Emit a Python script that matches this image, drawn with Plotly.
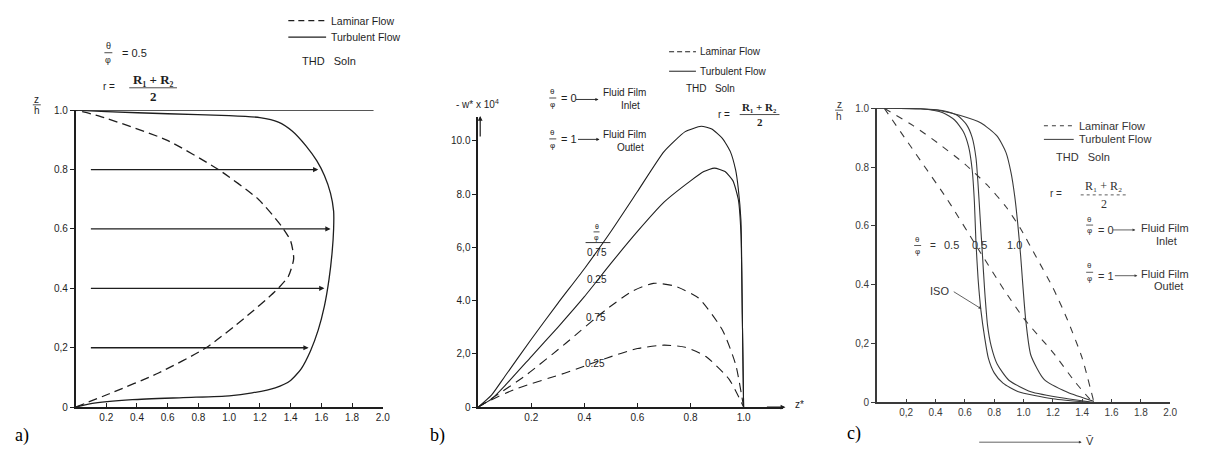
import numpy as np
import plotly.graph_objects as go

W, H = 1208, 455
INK = "#1e1e1e"
SANS = "Liberation Sans Narrow, Liberation Sans, Arial, sans-serif"
SERIF = "Liberation Serif, Times New Roman, serif"

# ---------------- (a) velocity profiles across the film, theta/phi = 0.5
a_lam_x = [0, 0.22, 0.54, 0.85, 1.10, 1.30, 1.385, 1.42, 1.40, 1.34, 1.19, 0.93, 0.59, 0.155, 0]
a_lam_z = [0, 0.045, 0.115, 0.20, 0.30, 0.39, 0.44, 0.50, 0.56, 0.61, 0.70, 0.80, 0.90, 0.98, 1.0]
a_turb_x = [0, 0.1, 0.37, 0.7, 1.0, 1.15, 1.3, 1.4, 1.47, 1.53, 1.58, 1.62, 1.65, 1.67, 1.68,
            1.68, 1.66, 1.62, 1.57, 1.50, 1.41, 1.32, 1.2, 1.0, 0.6, 0.2, 0]
a_turb_z = [0, 0.012, 0.025, 0.032, 0.038, 0.048, 0.065, 0.09, 0.13, 0.19, 0.26, 0.34, 0.43, 0.52, 0.6,
            0.66, 0.72, 0.78, 0.83, 0.88, 0.93, 0.96, 0.975, 0.982, 0.988, 0.995, 1.0]
a_wall_x = [0, 1.94]
a_wall_z = [1.0, 1.0]
a_arrow_z = [0.2, 0.4, 0.6, 0.8]
a_arrow_start = 0.09
a_xticks = [0.2, 0.4, 0.6, 0.8, 1.0, 1.2, 1.4, 1.6, 1.8, 2.0]
a_xtext = ["0.2", "0.4", "0.6", "0.8", "1.0", "1.2", "1.4", "1.6", "1.8", "2.0"]
a_yticks = [0, 0.2, 0.4, 0.6, 0.8, 1.0]
a_ytext = ["0", "0,2", "0.4", "0.6", "0.8", "1.0"]

# ---------------- (b) axial velocity -w* x 10^4 against z*
b_turb75_x = [0, 0.05, 0.1, 0.2, 0.3, 0.4, 0.5, 0.6, 0.7, 0.78, 0.84, 0.88, 0.92, 0.95, 0.97, 0.98, 0.99, 0.995, 1.0]
b_turb75_y = [0, 0.45, 1.15, 2.55, 3.9, 5.2, 6.6, 8.1, 9.6, 10.35, 10.55, 10.45, 10.1, 9.6, 8.9, 8.2, 7.0, 3.5, 0]
b_turb25_x = [0, 0.05, 0.1, 0.2, 0.3, 0.4, 0.5, 0.6, 0.7, 0.8, 0.85, 0.89, 0.93, 0.96, 0.98, 0.99, 0.995, 1.0]
b_turb25_y = [0, 0.3, 0.8, 1.9, 3.0, 4.15, 5.4, 6.6, 7.7, 8.5, 8.85, 8.98, 8.85, 8.5, 7.8, 6.5, 3.5, 0]
b_lam75_x = [0, 0.07, 0.18, 0.33, 0.48, 0.58, 0.66, 0.74, 0.83, 0.92, 0.97, 1.0]
b_lam75_y = [0, 0.45, 1.2, 2.4, 3.65, 4.35, 4.65, 4.55, 4.1, 2.9, 1.6, 0]
b_lam25_x = [0, 0.034, 0.146, 0.333, 0.483, 0.6, 0.7, 0.78, 0.858, 0.945, 1.0]
b_lam25_y = [0, 0.2, 0.7, 1.3, 1.84, 2.2, 2.33, 2.25, 1.9, 1.05, 0]
b_xticks = [0.2, 0.4, 0.6, 0.8, 1.0]
b_xtext = ["0.2", "0.4", "0.6", "0.8", "1.0"]
b_yticks = [0, 2, 4, 6, 8, 10]
b_ytext = ["0", "2,0", "4.0", "6,0", "8.0", "10.0"]

# ---------------- (c) tangential velocity V against z/h
c_iso_x = [0, 0.3, 0.45, 0.53, 0.59, 0.625, 0.65, 0.665, 0.675, 0.69, 0.71, 0.735, 0.76, 0.8, 0.86, 0.96, 1.2, 1.45]
c_iso_z = [1.0, 0.998, 0.985, 0.96, 0.92, 0.87, 0.79, 0.68, 0.55, 0.42, 0.31, 0.22, 0.15, 0.1, 0.065, 0.037, 0.012, 0.0]
c_t05_x = [0, 0.3, 0.47, 0.55, 0.61, 0.65, 0.676, 0.69, 0.705, 0.72, 0.735, 0.755, 0.78, 0.82, 0.9, 1.05, 1.3, 1.47]
c_t05_z = [1.0, 0.998, 0.99, 0.975, 0.945, 0.9, 0.83, 0.74, 0.62, 0.5, 0.38, 0.26, 0.19, 0.13, 0.075, 0.036, 0.012, 0.0]
c_t10_x = [0, 0.3, 0.45, 0.57, 0.71, 0.82, 0.88, 0.915, 0.94, 0.96, 0.98, 0.995, 1.015, 1.05, 1.14, 1.3, 1.48]
c_t10_z = [1.0, 0.998, 0.99, 0.975, 0.95, 0.905, 0.85, 0.78, 0.70, 0.61, 0.50, 0.40, 0.28, 0.16, 0.078, 0.034, 0.003]
c_l05_x = [0.05, 0.3, 0.48, 0.68, 0.87, 1.01, 1.2, 1.35, 1.47]
c_l05_z = [1.0, 0.82, 0.69, 0.53, 0.38, 0.28, 0.17, 0.07, 0.0]
c_l10_x = [0.05, 0.25, 0.42, 0.6, 0.75, 0.88, 0.98, 1.08, 1.2, 1.3, 1.4, 1.48]
c_l10_z = [1.0, 0.94, 0.88, 0.81, 0.74, 0.665, 0.59, 0.5, 0.39, 0.28, 0.15, 0.0]
c_xticks = [0.2, 0.4, 0.6, 0.8, 1.0, 1.2, 1.4, 1.6, 1.8, 2.0]
c_xtext = ["0,2", "0.4", "0.6", "0.8", "1.0", "1.2", "1.4", "1.6", "1.8", "2.0"]
c_yticks = [0, 0.2, 0.4, 0.6, 0.8, 1.0]
c_ytext = ["0", "0,2", "0.4", "0.6", "0.8", "1.0"]


def dom_x(p0, p1):
    return [p0 / W, p1 / W]


def dom_y(p_bottom, p_top):
    return [1 - p_bottom / H, 1 - p_top / H]


fig = go.Figure()


def curve(x, y, axis, dash="solid", color=INK, width=1.3, smooth=0.6):
    fig.add_trace(go.Scatter(
        x=x, y=y, xaxis="x" + axis, yaxis="y" + axis, mode="lines",
        line=dict(color=color, width=width, dash=dash, shape="spline", smoothing=smooth),
        hoverinfo="skip", showlegend=False))


# panel a
curve(a_lam_x, a_lam_z, "", dash="9px,5px")
curve(a_turb_x, a_turb_z, "")
curve(a_wall_x, a_wall_z, "", width=1.8)
# panel b
curve(b_turb75_x, b_turb75_y, "2", width=1.1, smooth=0.5)
curve(b_turb25_x, b_turb25_y, "2", width=1.1, smooth=0.5)
curve(b_lam75_x, b_lam75_y, "2", dash="9px,6px", width=1.1)
curve(b_lam25_x, b_lam25_y, "2", dash="9px,6px", width=1.1)
# panel c
CG = "#3a3a3a"
curve(c_iso_x, c_iso_z, "3", color=CG, width=1.1)
curve(c_t05_x, c_t05_z, "3", color=CG, width=1.1)
curve(c_t10_x, c_t10_z, "3", color=CG, width=1.1)
curve(c_l05_x, c_l05_z, "3", dash="7px,7px", color=CG, width=1.1)
curve(c_l10_x, c_l10_z, "3", dash="7px,7px", color=CG, width=1.1)

ann = []
shp = []


def label(x, y, s, size=10, anchor="center", family=SANS, color=INK):
    ann.append(dict(x=x / W, y=1 - y / H, xref="paper", yref="paper", text=s, showarrow=False,
                    xanchor=anchor, yanchor="middle",
                    font=dict(family=family, size=size, color=color)))


def hline(x0, x1, y, dash="solid", width=1.0, color=INK):
    shp.append(dict(type="line", xref="paper", yref="paper", x0=x0 / W, x1=x1 / W,
                    y0=1 - y / H, y1=1 - y / H, line=dict(color=color, width=width, dash=dash)))


def pointer(x0, y0, x1, y1, color=INK, width=1.0, size=0.8):
    ann.append(dict(x=x1 / W, y=1 - y1 / H, xref="paper", yref="paper", ax=x0 - x1, ay=y0 - y1,
                    text="", showarrow=True, arrowhead=2, arrowsize=size, arrowwidth=width,
                    arrowcolor=color))


def frac(xc, y_num, y_den, num, den, size=10, bar=12, family=SANS, color=INK, bar_dash="solid"):
    label(xc, y_num, num, size=size, family=family, color=color)
    hline(xc - bar / 2, xc + bar / 2, (y_num + y_den) / 2, color=color, width=0.8, dash=bar_dash)
    label(xc, y_den, den, size=size, family=family, color=color)


# ---- panel a annotations
for z in a_arrow_z:
    xe = float(np.interp(z, a_turb_z, a_turb_x)) - 0.02
    ann.append(dict(x=xe, y=z, xref="x", yref="y", ax=a_arrow_start, ay=z, axref="x", ayref="y",
                    text="", showarrow=True, arrowhead=2, arrowsize=0.8, arrowwidth=1.3, arrowcolor=INK))
frac(37, 96, 107, "z", "h", size=10, bar=8)
frac(109, 41, 55, "θ", "φ", size=9, bar=8)
label(121, 48, "= 0.5", size=11, anchor="left")
label(118, 83, "r =", size=10, anchor="right")
frac(154, 75, 93, "<b>R₁ + R₂</b>", "<b>2</b>", size=13, bar=48, family=SERIF)
hline(290, 328, 15, dash="6px,4px", width=1.1)
label(331, 15, "Laminar Flow", size=10.5, anchor="left")
hline(290, 328, 32, width=1.1)
label(331, 32, "Turbulent Flow", size=10.5, anchor="left")
label(302, 57, "THD   Soln", size=11, anchor="left")
label(22, 441, "a)", size=18, family=SERIF, color="#000")

# ---- panel b annotations
pointer(483, 135, 483, 113, width=1.2)
pointer(770, 412, 790, 412, width=1.2)
label(480, 101, "- w* x 10<sup>4</sup>", size=10)
label(804, 409, "z*", size=10)
hline(673, 700, 47, dash="5px,3px", width=1.0)
label(702, 47, "Laminar Flow", size=10, anchor="left")
hline(673, 700, 67, width=1.0)
label(702, 67, "Turbulent Flow", size=10, anchor="left")
label(688, 85, "THD   Soln", size=10, anchor="left")
frac(556, 88, 101, "θ", "φ", size=8, bar=7)
label(562, 95, "= 0", size=11, anchor="left")
pointer(578, 96, 602, 96, width=0.9, size=0.7)
label(605, 89, "Fluid Film", size=10, anchor="left")
label(634, 102, "Inlet", size=10)
frac(556, 130, 143, "θ", "φ", size=8, bar=7)
label(562, 137, "= 1", size=11, anchor="left")
pointer(580, 137, 603, 137, width=0.9, size=0.7)
label(605, 132, "Fluid Film", size=10, anchor="left")
label(634, 145, "Outlet", size=10)
label(736, 111, "r =", size=10, anchor="right")
frac(764, 104, 119, "<b>R₁ + R₂</b>", "<b>2</b>", size=11, bar=40, family=SERIF)
frac(600, 226, 238, "θ", "φ", size=7, bar=6)
hline(589, 614, 243, width=0.9)
label(600, 253, "0.75", size=10)
label(600, 281, "0.25", size=10)
label(599, 320, "0.75", size=10)
label(598, 367, "0.25", size=10)
label(440, 441, "b)", size=18, family=SERIF, color="#000")

# ---- panel c annotations
CT = "#333333"
frac(844, 101, 113, "z", "h", size=10, bar=8, color=CT)
hline(1050, 1080, 123, dash="4px,4px", width=1.0, color=CG)
label(1083, 123, "Laminar Flow", size=11, anchor="left", color=CT)
hline(1050, 1080, 137, width=1.0, color=CG)
label(1083, 137, "Turbulent Flow", size=11, anchor="left", color=CT)
label(1060, 155, "THD   Soln", size=11, anchor="left", color=CT)
label(1070, 193, "r =", size=10, anchor="right", color=CT)
frac(1110, 185, 203, "R₁ + R₂", "2", size=12, bar=46, family=SERIF, color=CT, bar_dash="dot")
frac(1096, 219, 231, "θ", "φ", size=8, bar=7, color=CT)
label(1102, 230, "= 0", size=11, anchor="left", color=CT)
pointer(1118, 230, 1142, 230, width=0.8, size=0.7, color=CG)
label(1146, 228, "Fluid Film", size=11, anchor="left", color=CT)
label(1173, 241, "Inlet", size=11, color=CT)
frac(1096, 267, 280, "θ", "φ", size=8, bar=7, color=CT)
label(1102, 277, "= 1", size=11, anchor="left", color=CT)
pointer(1120, 277, 1144, 277, width=0.8, size=0.7, color=CG)
label(1146, 275, "Fluid Film", size=11, anchor="left", color=CT)
label(1175, 288, "Outlet", size=11, color=CT)
frac(923, 240, 252, "θ", "φ", size=8, bar=7, color=CT)
label(933, 246, "=", size=10, anchor="left", color=CT)
label(957, 245, "0.5", size=11, color=CT)
label(985, 245, "0.5", size=11, color=CT)
label(1020, 245, "1.0", size=11, color=CT)
label(945, 293, "ISO", size=11, color=CT)
pointer(958, 293, 987, 311, width=0.8, size=0.7, color=CG)
pointer(984, 448, 1088, 448, width=0.8, size=0.7, color=CG)
label(1096, 447, "V̄", size=11, color=CT)
label(859, 439, "c)", size=18, family=SERIF, color="#000")


def xaxis(dom, rng, ticks, text, anchor, color=INK):
    return dict(domain=dom, range=rng, anchor=anchor, showline=True, linecolor=color, linewidth=1.5,
                showgrid=False, zeroline=False, ticks="inside", ticklen=4, tickcolor=color,
                tickvals=ticks, ticktext=text, tickfont=dict(family=SANS, size=10, color=color),
                fixedrange=True)


def yaxis(dom, rng, ticks, text, anchor, color=INK):
    return dict(domain=dom, range=rng, anchor=anchor, showline=True, linecolor=color, linewidth=1.5,
                showgrid=False, zeroline=False, ticks="outside", ticklen=4, tickcolor=color,
                tickvals=ticks, ticktext=text, tickfont=dict(family=SANS, size=10, color=color),
                fixedrange=True)


fig.update_layout(
    width=W, height=H, margin=dict(l=0, r=0, t=0, b=0),
    paper_bgcolor="white", plot_bgcolor="rgba(0,0,0,0)", showlegend=False,
    xaxis=xaxis(dom_x(76, 385), [0, 2.0], a_xticks, a_xtext, "y"),
    yaxis=yaxis(dom_y(412, 107), [0, 1.0], a_yticks, a_ytext, "x"),
    xaxis2=xaxis(dom_x(481, 788), [0, 1.15], b_xticks, b_xtext, "y2"),
    yaxis2=yaxis(dom_y(412, 114), [0, 10.9], b_yticks, b_ytext, "x2"),
    xaxis3=xaxis(dom_x(882, 1177), [0, 2.0], c_xticks, c_xtext, "y3", color=CG),
    yaxis3=yaxis(dom_y(407, 105), [0, 1.0], c_yticks, c_ytext, "x3", color=CG),
    annotations=ann, shapes=shp,
)

fig.write_html("out.html")
